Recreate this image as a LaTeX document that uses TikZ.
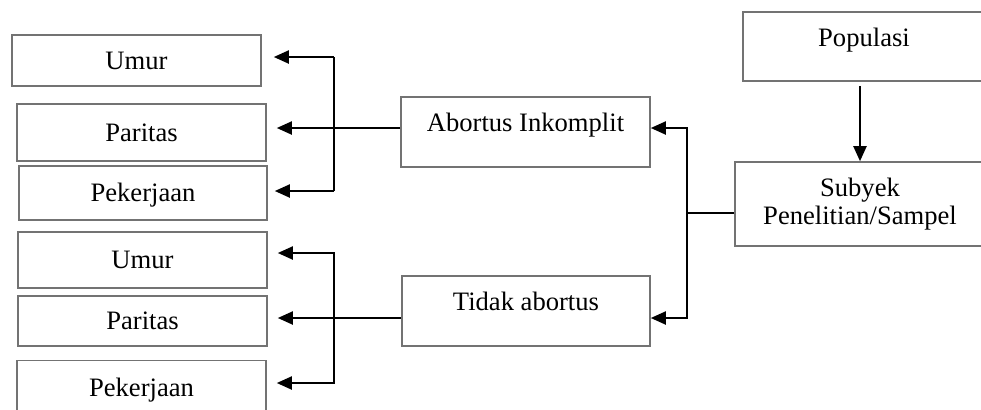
\documentclass[tikz,border=0pt]{standalone}
\usepackage{fontspec}
\setmainfont{Liberation Serif}
\usetikzlibrary{arrows.meta}

\begin{document}
\begin{tikzpicture}
	[x=0.5pt, y=-0.5pt,
	every node/.style={inner sep=0pt, font=\fontsize{13.3}{13.8}\selectfont},
	kotak/.style={rectangle, draw=black!55, line width=0.8pt},
	satu/.style={text height=9pt, text depth=0.4pt},
	atas/.style={text height=9pt, text depth=9.4pt},
	panah/.style={line width=1pt, -{Triangle[length=7.5pt, width=6.5pt]}, shorten >=5pt},
	garis/.style={line width=1pt}]
	\path[use as bounding box, clip] (0,0) rectangle (981,409);

	\node (umur1) [kotak, satu, minimum width=124.5pt, minimum height=25.5pt] at (136.5, 60.5) {Umur};
	\node (paritas1) [kotak, satu, minimum width=124.5pt, minimum height=28.5pt] at (141.5, 132.5) {Paritas};
	\node (kerja1) [kotak, satu, minimum width=124pt, minimum height=27pt] at (143, 193) {Pekerjaan};
	\node (umur2) [kotak, satu, minimum width=124.5pt, minimum height=28pt] at (142.5, 260) {Umur};
	\node (paritas2) [kotak, satu, minimum width=124.5pt, minimum height=25pt] at (142.5, 321) {Paritas};
	\node (kerja2) [kotak, satu, minimum width=124.5pt, minimum height=27.5pt] at (141.5, 388) {Pekerjaan};

	\node (inkomplit) [kotak, atas, minimum width=124.5pt, minimum height=35pt] at (525.5, 132) {Abortus Inkomplit};
	\node (tidak) [kotak, atas, minimum width=124pt, minimum height=35pt] at (526, 311) {Tidak abortus};

	\node (populasi) [kotak, atas, minimum width=121pt, minimum height=34.5pt] at (864, 46.5) {Populasi};
	\node (subyek) [kotak, align=center, minimum width=125pt, minimum height=42pt] at (860, 204) {Subyek\\Penelitian/Sampel};

	\coordinate (cabang) at (687, 213);
	\coordinate (atas1) at (334, 57);
	\coordinate (bawah1) at (334, 191);
	\coordinate (atas2) at (334, 253);
	\coordinate (bawah2) at (334, 383);

	\draw [panah, shorten >=0pt, shorten <=2pt] (populasi.south -| subyek) to (subyek);
	\draw [garis] (subyek.west |- cabang) to (cabang);
	\draw [panah, shorten >=0pt] (cabang) |- ([yshift=2pt]inkomplit.east);
	\draw [panah, shorten >=0pt] (cabang) |- ([yshift=-3.5pt]tidak.east);

	\draw [garis] (atas1) to (bawah1);
	\draw [panah, shorten >=6pt] (atas1) to (atas1 -| umur1.east);
	\draw [panah] ([yshift=2pt]inkomplit.west) to ([yshift=2pt]inkomplit.west -| paritas1.east);
	\draw [panah, shorten >=3.5pt] (bawah1) to (bawah1 -| kerja1.east);

	\draw [panah] (bawah2) |- (atas2) to (atas2 -| umur2.east);
	\draw [panah] ([yshift=-3.5pt]tidak.west) to ([yshift=-3.5pt]tidak.west -| paritas2.east);
	\draw [panah] (atas2) |- (bawah2) to (bawah2 -| kerja2.east);
\end{tikzpicture}
\end{document}
